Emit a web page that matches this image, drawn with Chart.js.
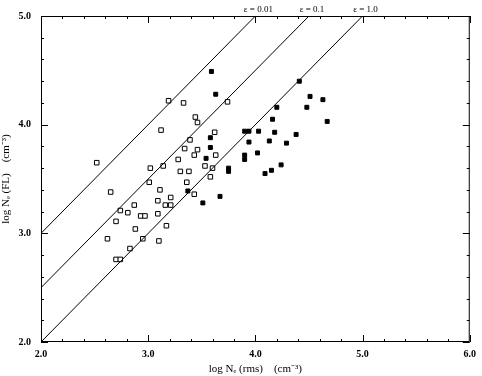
<!DOCTYPE html>
<html>
<head>
<meta charset="utf-8">
<script src="https://cdn.jsdelivr.net/npm/chart.js@4.4.0/dist/chart.umd.min.js"></script>
<style>
  html, body { margin: 0; padding: 0; background: #fff; }
  #wrap { width: 482px; height: 376px; }
</style>
</head>
<body>
<div id="wrap"><canvas id="chart"></canvas></div>
<script>
// open squares (log Ne rms, log Ne FL)
const openX = [3.19, 3.33, 3.74, 3.44, 3.46, 3.12, 3.62, 3.39, 3.34, 3.46, 3.43, 3.63, 3.28, 2.52,
  3.02, 3.14, 3.30, 3.38, 3.53, 3.60, 3.58, 3.01, 3.36, 3.11, 2.65, 3.09, 3.21, 3.16, 3.21, 3.43,
  2.87, 2.74, 2.81, 2.93, 2.97, 3.09, 2.70, 3.17, 2.88, 2.62, 2.95, 3.10, 2.83, 2.70, 2.74];
const openY = [4.22, 4.20, 4.21, 4.07, 4.02, 3.95, 3.93, 3.86, 3.78, 3.77, 3.72, 3.72, 3.68, 3.65,
  3.60, 3.62, 3.57, 3.57, 3.62, 3.60, 3.52, 3.47, 3.47, 3.40, 3.38, 3.30, 3.33, 3.26, 3.26, 3.36,
  3.26, 3.21, 3.19, 3.16, 3.16, 3.18, 3.11, 3.07, 3.04, 2.95, 2.95, 2.93, 2.86, 2.76, 2.76];

// filled squares
const filledX = [3.59, 3.63, 4.41, 4.51, 4.63, 4.48, 4.20, 4.16, 4.67, 3.58, 3.58, 3.90, 3.94, 4.03,
  4.18, 4.38, 3.94, 4.13, 4.29, 3.90, 3.90, 4.02, 3.54, 4.24, 3.75, 3.75, 4.09, 4.15, 3.37, 3.67, 3.51];
const filledY = [4.49, 4.28, 4.40, 4.26, 4.23, 4.16, 4.16, 4.05, 4.03, 3.88, 3.79, 3.94, 3.94, 3.94,
  3.93, 3.91, 3.84, 3.85, 3.83, 3.72, 3.68, 3.74, 3.69, 3.63, 3.60, 3.57, 3.55, 3.58, 3.39, 3.34, 3.28];

// filling factor lines
const epsLabels = ['\u03b5 = 0.01', '\u03b5 = 0.1', '\u03b5 = 1.0'];
const lineFromX = [2.0, 2.0, 2.0];
const lineFromY = [3.0, 2.5, 2.0];
const lineToX = [4.0, 4.5, 5.0];
const lineToY = [5.0, 5.0, 5.0];

const xTicks = [2.0, 3.0, 4.0, 5.0, 6.0];
const yTicks = [2.0, 3.0, 4.0, 5.0];

const FONT = 'Liberation Serif';

const pts = (xs, ys) => xs.map((x, i) => ({ x: x, y: ys[i] }));

const datasets = [];
for (let i = 0; i < epsLabels.length; i++) {
  datasets.push({
    type: 'line',
    label: epsLabels[i],
    data: [{ x: lineFromX[i], y: lineFromY[i] }, { x: lineToX[i], y: lineToY[i] }],
    borderColor: '#000',
    borderWidth: 1,
    pointRadius: 0,
    fill: false
  });
}
datasets.push({
  type: 'scatter',
  label: 'open',
  data: pts(openX, openY),
  pointStyle: 'rect',
  pointRadius: 3.2,
  backgroundColor: '#fff',
  borderColor: '#000',
  borderWidth: 1
});
datasets.push({
  type: 'scatter',
  label: 'filled',
  data: pts(filledX, filledY),
  pointStyle: 'rect',
  pointRadius: 2.8,
  backgroundColor: '#000',
  borderColor: '#000',
  borderWidth: 1
});

const framePlugin = {
  id: 'frame',
  afterDraw(chart) {
    const ctx = chart.ctx;
    const a = chart.chartArea;
    const xs = chart.scales.x, ys = chart.scales.y;
    ctx.save();
    ctx.strokeStyle = '#000';
    ctx.lineWidth = 1;
    ctx.strokeRect(a.left + 0.5, a.top + 0.5, a.right - a.left - 1, a.bottom - a.top - 1);
    ctx.beginPath();
    for (let v = 2.0; v <= 6.001; v += 0.2) {
      const p = Math.round(xs.getPixelForValue(v)) + 0.5;
      const len = Math.abs(v - Math.round(v)) < 0.01 ? 7 : 3;
      ctx.moveTo(p, a.bottom); ctx.lineTo(p, a.bottom - len);
      ctx.moveTo(p, a.top); ctx.lineTo(p, a.top + len);
    }
    for (let v = 2.0; v <= 5.001; v += 0.2) {
      const p = Math.round(ys.getPixelForValue(v)) + 0.5;
      const len = Math.abs(v - Math.round(v)) < 0.01 ? 7 : 3;
      ctx.moveTo(a.left, p); ctx.lineTo(a.left + len, p);
      ctx.moveTo(a.right, p); ctx.lineTo(a.right - len, p);
    }
    ctx.stroke();
    ctx.fillStyle = '#000';
    ctx.font = '9px "' + FONT + '"';
    ctx.textAlign = 'center';
    ctx.textBaseline = 'bottom';
    for (let i = 0; i < epsLabels.length; i++) {
      ctx.fillText(epsLabels[i], xs.getPixelForValue(lineToX[i]) + 3, a.top - 2);
    }
    ctx.restore();
  }
};

new Chart(document.getElementById('chart'), {
  type: 'scatter',
  data: { datasets: datasets },
  options: {
    responsive: true,
    maintainAspectRatio: false,
    animation: false,
    layout: { padding: { top: 11, right: 8, left: 0, bottom: 0 } },
    plugins: {
      legend: { display: false },
      tooltip: { enabled: false }
    },
    scales: {
      x: {
        type: 'linear',
        min: 2.0, max: 6.0,
        afterBuildTicks: s => { s.ticks = xTicks.map(v => ({ value: v })); },
        afterFit: s => { s.height = 34; },
        grid: { display: false, drawTicks: false },
        border: { display: false },
        ticks: {
          color: '#000',
          padding: 6,
          font: { family: FONT, size: 10, weight: 'bold' },
          callback: v => v.toFixed(1)
        },
        title: {
          display: true,
          text: 'log N\u2091 (rms)    (cm\u207b\u00b3)',
          color: '#000',
          padding: { top: 0, bottom: 0 },
          font: { family: FONT, size: 11 }
        }
      },
      y: {
        type: 'linear',
        min: 2.0, max: 5.0,
        afterBuildTicks: s => { s.ticks = yTicks.map(v => ({ value: v })); },
        afterFit: s => { s.width = 41; },
        grid: { display: false, drawTicks: false },
        border: { display: false },
        ticks: {
          color: '#000',
          padding: 10,
          font: { family: FONT, size: 10, weight: 'bold' },
          callback: v => v.toFixed(1)
        },
        title: {
          display: true,
          text: 'log N\u2091 (FL)    (cm\u207b\u00b3)',
          color: '#000',
          padding: { top: 0, bottom: 0 },
          font: { family: FONT, size: 11 }
        }
      }
    }
  },
  plugins: [framePlugin]
});
</script>
</body>
</html>
